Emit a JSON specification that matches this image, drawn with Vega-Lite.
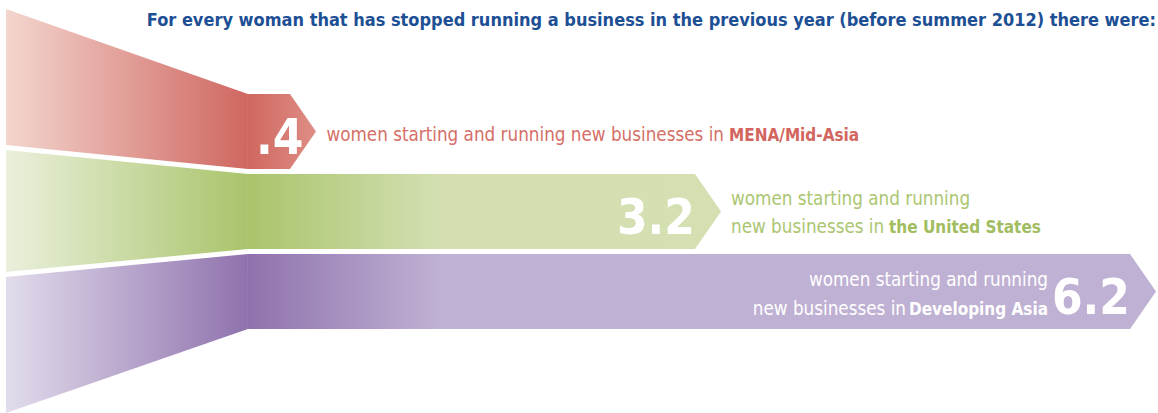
{
  "$schema": "https://vega.github.io/schema/vega-lite/v6.json",
  "width": 1158,
  "height": 413,
  "autosize": {"type": "fit", "contains": "padding"},
  "padding": 0,
  "background": "white",
  "config": {"view": {"stroke": null}, "text": {"font": "DejaVu Sans Condensed"}},
  "datasets": {
    "shapes": [
      {"series": "MENA/Mid-Asia", "part": "funnel", "x": -1.704, "top": 404, "bottom": 268},
      {"series": "MENA/Mid-Asia", "part": "funnel", "x": 0, "top": 319, "bottom": 244},
      {"series": "the United States", "part": "funnel", "x": -1.704, "top": 263, "bottom": 141},
      {"series": "the United States", "part": "funnel", "x": 0, "top": 239, "bottom": 164},
      {"series": "Developing Asia", "part": "funnel", "x": -1.704, "top": 136, "bottom": 0},
      {"series": "Developing Asia", "part": "funnel", "x": 0, "top": 159, "bottom": 84},
      {"series": "MENA/Mid-Asia", "part": "arrow", "x": 0, "top": 319, "bottom": 244},
      {"series": "MENA/Mid-Asia", "part": "arrow", "x": 0.296, "top": 319, "bottom": 244},
      {"series": "MENA/Mid-Asia", "part": "arrow", "x": 0.479, "top": 281.5, "bottom": 281.5},
      {"series": "the United States", "part": "arrow", "x": 0, "top": 239, "bottom": 164},
      {"series": "the United States", "part": "arrow", "x": 3.148, "top": 239, "bottom": 164},
      {"series": "the United States", "part": "arrow", "x": 3.331, "top": 201.5, "bottom": 201.5},
      {"series": "Developing Asia", "part": "arrow", "x": 0, "top": 159, "bottom": 84},
      {"series": "Developing Asia", "part": "arrow", "x": 6.211, "top": 159, "bottom": 84},
      {"series": "Developing Asia", "part": "arrow", "x": 6.394, "top": 121.5, "bottom": 121.5}
    ],
    "labels": [
      {"series": "MENA/Mid-Asia", "value": ".4", "end": 0.296, "tip": 0.479, "mid": 281.5},
      {"series": "the United States", "value": "3.2", "end": 3.148, "tip": 3.331, "mid": 201.5},
      {"series": "Developing Asia", "value": "6.2", "end": 6.211, "tip": 6.394, "mid": 121.5}
    ]
  },
  "layer": [
    {
      "data": {"name": "shapes"},
      "transform": [{"filter": "datum.series === 'MENA/Mid-Asia' && datum.part === 'funnel'"}],
      "mark": {"type": "area", "orient": "vertical", "fill": {"gradient": "linear", "x1": 0, "y1": 0, "x2": 1, "y2": 0, "stops": [{"offset": 0, "color": "#f3d6cf"}, {"offset": 1, "color": "#cf6760"}]}},
      "encoding": {
        "x": {"field": "x", "type": "quantitative", "scale": {"domain": [-1.746, 6.408], "nice": false, "zero": false}, "axis": null},
        "y": {"field": "top", "type": "quantitative", "scale": {"domain": [0, 413], "nice": false, "zero": false}, "axis": null},
        "y2": {"field": "bottom"}
      }
    },
    {
      "data": {"name": "shapes"},
      "transform": [{"filter": "datum.series === 'the United States' && datum.part === 'funnel'"}],
      "mark": {"type": "area", "orient": "vertical", "fill": {"gradient": "linear", "x1": 0, "y1": 0, "x2": 1, "y2": 0, "stops": [{"offset": 0, "color": "#eaf0dc"}, {"offset": 1, "color": "#a9c46b"}]}},
      "encoding": {
        "x": {"field": "x", "type": "quantitative"},
        "y": {"field": "top", "type": "quantitative"},
        "y2": {"field": "bottom"}
      }
    },
    {
      "data": {"name": "shapes"},
      "transform": [{"filter": "datum.series === 'Developing Asia' && datum.part === 'funnel'"}],
      "mark": {"type": "area", "orient": "vertical", "fill": {"gradient": "linear", "x1": 0, "y1": 0, "x2": 1, "y2": 0, "stops": [{"offset": 0, "color": "#e2dcec"}, {"offset": 1, "color": "#8f72ad"}]}},
      "encoding": {
        "x": {"field": "x", "type": "quantitative"},
        "y": {"field": "top", "type": "quantitative"},
        "y2": {"field": "bottom"}
      }
    },
    {
      "data": {"name": "shapes"},
      "transform": [{"filter": "datum.series === 'MENA/Mid-Asia' && datum.part === 'arrow'"}],
      "mark": {"type": "area", "orient": "vertical", "fill": {"gradient": "linear", "x1": 0, "y1": 0, "x2": 1, "y2": 0, "stops": [{"offset": 0, "color": "#cf6760"}, {"offset": 1, "color": "#de8e85"}]}},
      "encoding": {
        "x": {"field": "x", "type": "quantitative"},
        "y": {"field": "top", "type": "quantitative"},
        "y2": {"field": "bottom"}
      }
    },
    {
      "data": {"name": "shapes"},
      "transform": [{"filter": "datum.series === 'the United States' && datum.part === 'arrow'"}],
      "mark": {"type": "area", "orient": "vertical", "fill": {"gradient": "linear", "x1": 0, "y1": 0, "x2": 1, "y2": 0, "stops": [{"offset": 0, "color": "#a9c46b"}, {"offset": 0.4, "color": "#d3dfb1"}, {"offset": 1, "color": "#d4e0b2"}]}},
      "encoding": {
        "x": {"field": "x", "type": "quantitative"},
        "y": {"field": "top", "type": "quantitative"},
        "y2": {"field": "bottom"}
      }
    },
    {
      "data": {"name": "shapes"},
      "transform": [{"filter": "datum.series === 'Developing Asia' && datum.part === 'arrow'"}],
      "mark": {"type": "area", "orient": "vertical", "fill": {"gradient": "linear", "x1": 0, "y1": 0, "x2": 1, "y2": 0, "stops": [{"offset": 0, "color": "#8f72ad"}, {"offset": 0.21, "color": "#bfb1d3"}, {"offset": 1, "color": "#bfb1d3"}]}},
      "encoding": {
        "x": {"field": "x", "type": "quantitative"},
        "y": {"field": "top", "type": "quantitative"},
        "y2": {"field": "bottom"}
      }
    },
    {
      "data": {"values": [{"t": "For every woman that has stopped running a business in the previous year (before summer 2012) there were:"}]},
      "mark": {"type": "text", "align": "right", "baseline": "alphabetic", "fontWeight": "bold", "fontSize": 18, "color": "#1d4f95"},
      "encoding": {
        "x": {"datum": 6.394, "type": "quantitative"},
        "y": {"datum": 387, "type": "quantitative"},
        "text": {"field": "t"}
      }
    },
    {
      "data": {"name": "labels"},
      "transform": [{"filter": "datum.series === 'MENA/Mid-Asia'"}],
      "mark": {"type": "text", "align": "left", "baseline": "alphabetic", "dx": 8, "dy": 22.5, "fontWeight": "bold", "fontSize": 49, "color": "white"},
      "encoding": {
        "x": {"datum": 0, "type": "quantitative"},
        "y": {"field": "mid", "type": "quantitative"},
        "text": {"field": "value"}
      }
    },
    {
      "data": {"name": "labels"},
      "transform": [{"filter": "datum.series !== 'MENA/Mid-Asia'"}],
      "mark": {"type": "text", "align": "right", "baseline": "alphabetic", "dx": 0, "dy": 22.5, "fontWeight": "bold", "fontSize": 49, "color": "white"},
      "encoding": {
        "x": {"field": "end", "type": "quantitative"},
        "y": {"field": "mid", "type": "quantitative"},
        "text": {"field": "value"}
      }
    },
    {
      "data": {"name": "labels"},
      "transform": [{"filter": "datum.series === 'MENA/Mid-Asia'"}],
      "mark": {"type": "text", "align": "right", "baseline": "alphabetic", "dx": 408, "dy": 9, "fontSize": 18.7, "color": "#d56f67", "text": "women starting and running new businesses in"},
      "encoding": {
        "x": {"field": "tip", "type": "quantitative"},
        "y": {"field": "mid", "type": "quantitative"}
      }
    },
    {
      "data": {"name": "labels"},
      "transform": [{"filter": "datum.series === 'MENA/Mid-Asia'"}],
      "mark": {"type": "text", "align": "left", "baseline": "alphabetic", "dx": 413, "dy": 9, "fontWeight": "bold", "fontSize": 17, "color": "#d2655d"},
      "encoding": {
        "x": {"field": "tip", "type": "quantitative"},
        "y": {"field": "mid", "type": "quantitative"},
        "text": {"field": "series"}
      }
    },
    {
      "data": {"name": "labels"},
      "transform": [{"filter": "datum.series === 'the United States'"}],
      "mark": {"type": "text", "align": "left", "baseline": "alphabetic", "dx": 10, "dy": -7, "lineHeight": 28, "fontSize": 18.7, "color": "#abc671", "text": ["women starting and running", "new businesses in"]},
      "encoding": {
        "x": {"field": "tip", "type": "quantitative"},
        "y": {"field": "mid", "type": "quantitative"}
      }
    },
    {
      "data": {"name": "labels"},
      "transform": [{"filter": "datum.series === 'the United States'"}],
      "mark": {"type": "text", "align": "left", "baseline": "alphabetic", "dx": 168, "dy": 21, "fontWeight": "bold", "fontSize": 17, "color": "#a1bd60"},
      "encoding": {
        "x": {"field": "tip", "type": "quantitative"},
        "y": {"field": "mid", "type": "quantitative"},
        "text": {"field": "series"}
      }
    },
    {
      "data": {"name": "labels"},
      "transform": [{"filter": "datum.series === 'Developing Asia'"}],
      "mark": {"type": "text", "align": "right", "baseline": "alphabetic", "dx": -82, "dy": -5.5, "fontSize": 18.7, "color": "white", "text": "women starting and running"},
      "encoding": {
        "x": {"field": "end", "type": "quantitative"},
        "y": {"field": "mid", "type": "quantitative"}
      }
    },
    {
      "data": {"name": "labels"},
      "transform": [{"filter": "datum.series === 'Developing Asia'"}],
      "mark": {"type": "text", "align": "right", "baseline": "alphabetic", "dx": -224, "dy": 23.5, "fontSize": 18.7, "color": "white", "text": "new businesses in"},
      "encoding": {
        "x": {"field": "end", "type": "quantitative"},
        "y": {"field": "mid", "type": "quantitative"}
      }
    },
    {
      "data": {"name": "labels"},
      "transform": [{"filter": "datum.series === 'Developing Asia'"}],
      "mark": {"type": "text", "align": "right", "baseline": "alphabetic", "dx": -82, "dy": 23.5, "fontWeight": "bold", "fontSize": 17, "color": "white"},
      "encoding": {
        "x": {"field": "end", "type": "quantitative"},
        "y": {"field": "mid", "type": "quantitative"},
        "text": {"field": "series"}
      }
    }
  ]
}
